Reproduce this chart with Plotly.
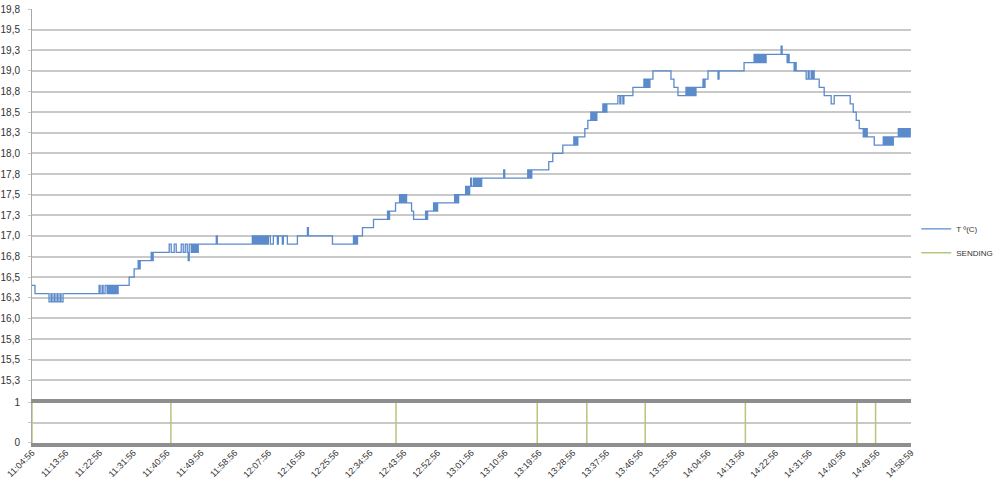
import plotly.graph_objects as go
import pandas as pd

# logger start and time of each reading change (seconds after start)
start_clock = "2013-01-01 11:04:56"

elapsed_s = [
    0, 48, 272, 304, 320, 352, 368, 400, 416, 448, 464, 496,
    1072, 1088, 1120, 1136, 1168, 1200, 1216, 1232, 1248, 1264, 1280, 1296,
    1312, 1328, 1344, 1360, 1376,
    1552, 1632, 1696, 1712, 1728, 1904, 1920, 1936,
    2192, 2224, 2272, 2304, 2384, 2416, 2448, 2480, 2496, 2512, 2544, 2560,
    2576, 2592, 2608, 2624, 2640, 2656,
    2944, 2960,
    3520, 3536, 3552, 3568, 3584, 3600, 3616, 3632, 3648, 3664, 3680, 3696,
    3712, 3728, 3744, 3760, 3776, 3808,
    3856, 3920, 3936, 4000, 4016, 4080,
    4240, 4400, 4416, 4800,
    5136, 5152, 5168, 5184, 5200, 5280, 5456, 5680, 5696, 5712, 5808,
    5872, 5888, 5904, 5920, 5936, 5952, 5968, 5984, 6064, 6096,
    6288, 6304, 6320, 6416, 6432, 6448, 6464, 6480,
    6752, 6768, 6784, 6800, 6816, 6928, 6944, 6960, 6976, 6992,
    7008, 7024, 7056, 7072, 7088, 7104, 7120, 7136, 7152, 7168, 7184,
    7536, 7552, 7920, 7936, 7952, 7968, 7984,
    8256, 8320, 8480, 8656, 8672, 8688, 8704, 8720, 8832, 8880,
    8928, 8944, 8960, 8976, 8992, 9008, 9024,
    9120, 9136, 9152, 9168, 9184, 9360, 9392, 9408, 9440, 9456,
    9600, 9776, 9792, 9808, 9824, 9840, 9856, 9872, 9920,
    10208, 10256, 10320,
    10448, 10464, 10480, 10496, 10512, 10528, 10544, 10560, 10576, 10592, 10608,
    10720, 10736, 10752, 10800, 10960, 10976, 11376,
    11536, 11552, 11568, 11584, 11600, 11616, 11632, 11648, 11664, 11680,
    11696, 11712, 11728,
    11968, 11984, 12064, 12080, 12096, 12176, 12192, 12208,
    12368, 12400, 12416, 12448, 12464, 12480, 12496,
    12576, 12656, 12768, 12816, 13072, 13120, 13168, 13216,
    13280, 13296, 13312, 13328, 13344, 13456,
    13600, 13616, 13632, 13648, 13664, 13680, 13696, 13712, 13728, 13744, 13760,
    13840, 13856, 13872, 13888, 13904, 13920, 13936, 13952, 13968, 13984,
    14000, 14016, 14030, 14043,
]

temp_c = [
    16.4, 16.3, 16.2, 16.3, 16.2, 16.3, 16.2, 16.3, 16.2, 16.3, 16.2, 16.3,
    16.4, 16.3, 16.4, 16.3, 16.4, 16.3, 16.4, 16.3, 16.4, 16.3, 16.4, 16.3,
    16.4, 16.3, 16.4, 16.3, 16.4,
    16.5, 16.6, 16.7, 16.6, 16.7, 16.8, 16.7, 16.8,
    16.9, 16.8, 16.9, 16.8, 16.9, 16.8, 16.9, 16.8, 16.7, 16.9, 16.8, 16.9,
    16.8, 16.9, 16.8, 16.9, 16.8, 16.9,
    17.0, 16.9,
    17.0, 16.9, 17.0, 16.9, 17.0, 16.9, 17.0, 16.9, 17.0, 16.9, 17.0, 16.9,
    17.0, 16.9, 17.0, 16.9, 17.0, 16.9,
    17.0, 16.9, 17.0, 16.9, 17.0, 16.9,
    17.0, 17.1, 17.0, 16.9,
    17.0, 16.9, 17.0, 16.9, 17.0, 17.1, 17.2, 17.3, 17.2, 17.3, 17.4,
    17.5, 17.4, 17.5, 17.4, 17.5, 17.4, 17.5, 17.4, 17.3, 17.2,
    17.3, 17.2, 17.3, 17.4, 17.3, 17.4, 17.3, 17.4,
    17.5, 17.4, 17.5, 17.4, 17.5, 17.6, 17.5, 17.6, 17.5, 17.6,
    17.7, 17.6, 17.7, 17.6, 17.7, 17.6, 17.7, 17.6, 17.7, 17.6, 17.7,
    17.8, 17.7, 17.8, 17.7, 17.8, 17.7, 17.8,
    17.9, 18.0, 18.1, 18.2, 18.1, 18.2, 18.1, 18.2, 18.3, 18.4,
    18.5, 18.4, 18.5, 18.4, 18.5, 18.4, 18.5,
    18.6, 18.5, 18.6, 18.5, 18.6, 18.7, 18.6, 18.7, 18.6, 18.7,
    18.8, 18.9, 18.8, 18.9, 18.8, 18.9, 18.8, 18.9, 19.0,
    18.9, 18.8, 18.7,
    18.8, 18.7, 18.8, 18.7, 18.8, 18.7, 18.8, 18.7, 18.8, 18.7, 18.8,
    18.9, 18.8, 18.9, 19.0, 18.9, 19.0, 19.1,
    19.2, 19.1, 19.2, 19.1, 19.2, 19.1, 19.2, 19.1, 19.2, 19.1,
    19.2, 19.1, 19.2,
    19.3, 19.2, 19.1, 19.2, 19.1, 19.0, 19.1, 19.0,
    18.9, 19.0, 18.9, 19.0, 18.9, 19.0, 18.9,
    18.8, 18.7, 18.6, 18.7, 18.6, 18.5, 18.4, 18.3,
    18.2, 18.3, 18.2, 18.3, 18.2, 18.1,
    18.2, 18.1, 18.2, 18.1, 18.2, 18.1, 18.2, 18.1, 18.2, 18.1, 18.2,
    18.3, 18.2, 18.3, 18.2, 18.3, 18.2, 18.3, 18.2, 18.3, 18.2,
    18.3, 18.2, 18.3, 18.3,
]

# moments when the board was sending (SENDING = 1)
send_times = ["11:04:56", "11:41:55", "12:41:52", "13:19:28", "13:32:40",
              "13:48:13", "14:14:53", "14:44:35", "14:49:33"]

x_labels = ["11:04:56", "11:13:56", "11:22:56", "11:31:56", "11:40:56", "11:49:56",
            "11:58:56", "12:07:56", "12:16:56", "12:25:56", "12:34:56", "12:43:56",
            "12:52:56", "13:01:56", "13:10:56", "13:19:56", "13:28:56", "13:37:56",
            "13:46:56", "13:55:56", "14:04:56", "14:13:56", "14:22:56", "14:31:56",
            "14:40:56", "14:49:56", "14:58:59"]

y_ticks = [15.25, 15.5, 15.75, 16.0, 16.25, 16.5, 16.75, 17.0, 17.25, 17.5,
           17.75, 18.0, 18.25, 18.5, 18.75, 19.0, 19.25, 19.5, 19.75]
y_labels = ["15,3", "15,5", "15,8", "16,0", "16,3", "16,5", "16,8", "17,0", "17,3", "17,5",
            "17,8", "18,0", "18,3", "18,5", "18,8", "19,0", "19,3", "19,5", "19,8"]

day = start_clock.split(" ")[0]
t0 = pd.Timestamp(start_clock)
x_temp = t0 + pd.to_timedelta(elapsed_s, unit="s")
x_end = pd.Timestamp(day + " " + x_labels[-1])

# SENDING series: the 0 baseline sits under the axis line, so only the pulses are drawn
send_x = []
send_y = []
for s in send_times:
    ts = pd.Timestamp(day + " " + s)
    send_x += [ts, ts, None]
    send_y += [0, 1, None]

FONT = "Liberation Sans, Arial, sans-serif"
GRID = "#c9c9c9"

fig = go.Figure()
fig.add_trace(go.Scatter(
    x=x_temp, y=temp_c, mode="lines", name="T º(C)", legendgroup="t",
    line=dict(color="#5b8bca", width=1.3, shape="hv"),
    xaxis="x", yaxis="y",
))
fig.add_trace(go.Scatter(
    x=send_x, y=send_y, mode="lines", name="SENDING", legendgroup="s",
    line=dict(color="#b4c77c", width=1.5),
    xaxis="x", yaxis="y2", connectgaps=False,
))

fig.update_layout(
    width=1000, height=490,
    margin=dict(l=32, r=89, t=9, b=47, autoexpand=False),
    paper_bgcolor="white", plot_bgcolor="white",
    font=dict(family=FONT, size=10, color="#333333"),
    showlegend=True,
    legend=dict(x=1.006, y=0.527, xanchor="left", yanchor="top",
                font=dict(size=8, color="#333333"), itemwidth=30,
                tracegroupgap=5,
                bgcolor="rgba(0,0,0,0)", borderwidth=0),
    xaxis=dict(
        domain=[0, 1], anchor="y2", type="date",
        range=[t0, x_end], automargin=False,
        tickvals=[pd.Timestamp(day + " " + s) for s in x_labels],
        ticktext=x_labels, tickangle=-45,
        tickfont=dict(size=9, color="#333333"),
        showgrid=False, zeroline=False,
        showline=True, linecolor="#8e8e8e", linewidth=4, mirror=True,
        ticks="", ticklabelstandoff=-3,
    ),
    yaxis=dict(
        domain=[0.0968, 1], range=[15, 19.75], automargin=False,
        tickvals=y_ticks, ticktext=y_labels,
        showgrid=True, gridcolor=GRID, gridwidth=1.5,
        showline=True, linecolor="#a8a8a8", linewidth=1,
        ticks="outside", ticklen=3, tickcolor=GRID, ticklabelstandoff=6,
        zeroline=False,
    ),
    yaxis2=dict(
        domain=[0, 0.0922], range=[0, 1], automargin=False,
        tickvals=[0, 0.5, 1], ticktext=["0", "", "1"],
        showgrid=True, gridcolor=GRID, gridwidth=1.5,
        showline=True, linecolor="#a8a8a8", linewidth=1,
        ticks="outside", ticklen=3, tickcolor=GRID, ticklabelstandoff=6,
        zeroline=False,
    ),
)

# page has the browser's default 8px body margin; drop it so the chart sits at 0,0
fig.write_html("out.html", config={"displayModeBar": False},
               post_script="document.body.style.margin = '0';")
